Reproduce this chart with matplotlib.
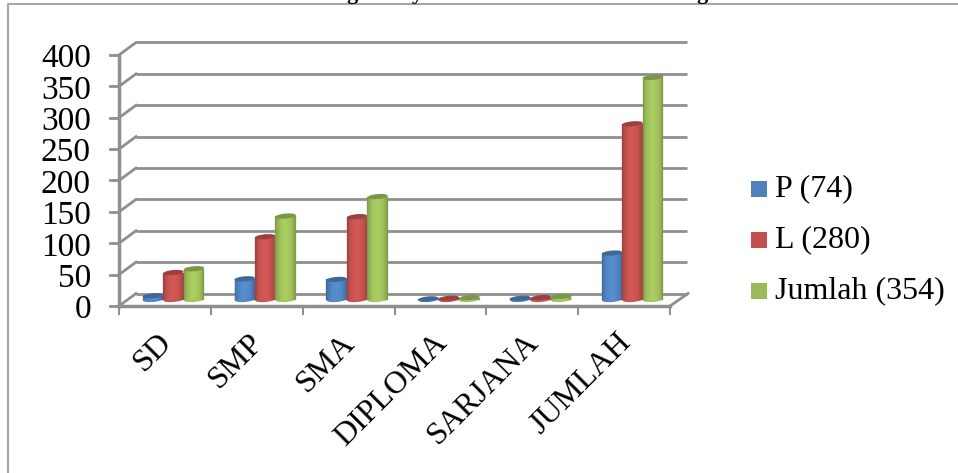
import numpy as np
import matplotlib
matplotlib.use('Agg')
import matplotlib.pyplot as plt
from matplotlib.colors import to_rgb
from matplotlib.patches import Ellipse, Rectangle
from matplotlib.transforms import Affine2D

categories = ['SD', 'SMP', 'SMA', 'DIPLOMA', 'SARJANA', 'JUMLAH']
p_values = [6, 33, 32, 1, 2, 74]
l_values = [43, 100, 132, 2, 3, 280]
jumlah_values = [49, 133, 164, 3, 5, 354]
series_names = ['P (74)', 'L (280)', 'Jumlah (354)']
y_ticks = [0, 50, 100, 150, 200, 250, 300, 350, 400]

W, H = 958, 473
plt.rcParams['font.family'] = ['Liberation Serif', 'DejaVu Serif']
fig = plt.figure(figsize=(W / 100, H / 100), dpi=100)

# axes is the front plane of the box, everything else is offset from it in pixels
left, right, top, bottom = 119, 670, 55, 306
ax = fig.add_axes([left / W, 1 - bottom / H, (right - left) / W, (bottom - top) / H])
ax.set_xlim(0, 6)
ax.set_ylim(0, 400)
ax.axis('off')

grey = '#8f8f8f'
back = ax.transData + Affine2D().translate(17, 12.5)
mid_dx, mid_dy = 8.5, 6.5
mid = ax.transData + Affine2D().translate(mid_dx, mid_dy)

# walls and floor
for v in y_ticks:
    ax.plot([0, 6], [v, v], color=grey, lw=2, transform=back, solid_capstyle='butt', clip_on=False)
    x0, y0 = ax.transData.transform((0, v))
    ax.plot([x0, x0 + 17], [y0, y0 + 12.5], color=grey, lw=2, transform=None, clip_on=False)
    ax.plot([x0 - 9, x0], [y0, y0], color=grey, lw=2, transform=None, clip_on=False)
    ax.text(x0 - 28, y0 - 4, str(v), ha='right', va='center', fontsize=24, transform=None)
ax.plot([0, 0], [0, 400], color=grey, lw=2.5, clip_on=False)
ax.plot([0, 6], [0, 0], color=grey, lw=2.5, clip_on=False)
x1, y1 = ax.transData.transform((6, 0))
ax.plot([x1, x1 + 18], [y1, y1 + 12.5], color=grey, lw=2, transform=None, clip_on=False)
for i in range(7):
    xt, yt = ax.transData.transform((i, 0))
    ax.plot([xt, xt], [yt, yt - 8], color=grey, lw=1.5, transform=None, clip_on=False)

for i, name in enumerate(categories):
    xt, yt = ax.transData.transform((i + 0.5, 0))
    ax.text(xt - 8, yt - 22, name, rotation=45, ha='right', va='top', rotation_mode='anchor',
            fontsize=23, transform=None)

# cylinders: narrow shaded strips for the body, tilted ellipses for the ends
colors = ['#4f81bd', '#c0504d', '#9bbb59']
bar_w = 0.223
bar_px = bar_w * (right - left) / 6
strips = 24
ell_h = 5


def shade(col, t):
    # t runs 0..1 over the width, light in the middle, dark at the edges
    c = np.array(to_rgb(col))
    k = 0.76 + 0.34 * np.sin(np.pi * t) ** 0.6
    return tuple(np.clip(c * k, 0, 1))


def end_cap(cx, v, color, zorder):
    px, py = ax.transData.transform((cx, v))
    place = Affine2D().translate(px + mid_dx, py + mid_dy)
    ax.add_patch(Ellipse((0, 0), bar_px, ell_h, angle=5, transform=place, facecolor=color,
                         lw=0, clip_on=False, zorder=zorder))


for s, vals in enumerate([p_values, l_values, jumlah_values]):
    for i, v in enumerate(vals):
        cx = i + 0.5 + (s - 1) * bar_w
        end_cap(cx, 0, shade(colors[s], 0.3), 3 + s)
        edges = np.linspace(cx - bar_w / 2, cx + bar_w / 2, strips + 1)
        for k in range(strips):
            ax.add_patch(Rectangle((edges[k], 0), edges[k + 1] - edges[k], v, transform=mid,
                                   color=shade(colors[s], (k + 0.5) / strips), lw=0.2,
                                   clip_on=False, zorder=3 + s))
        end_cap(cx, v, tuple(np.array(to_rgb(colors[s])) * 0.8), 3 + s)

# legend
for y, col, name in zip([189, 240, 291], colors, series_names):
    fig.patches.append(Rectangle((751 / W, 1 - (y + 8) / H), 16 / W, 16 / H, transform=fig.transFigure,
                                 color=col, lw=0))
    fig.text(775 / W, 1 - y / H, name, ha='left', va='center', fontsize=23)

# heading sits mostly above the top edge, only the descenders stay in view
for x, letter in zip([352, 417, 702], ['g', 'y', 'g']):
    fig.text(x / W, 1 + 1.5 / H, letter, ha='center', va='baseline', fontsize=16, fontweight='bold')

# outer frame
fig.add_artist(plt.Line2D([8 / W, 8 / W, 1], [0, 1 - 4 / H, 1 - 4 / H], color='#a6a6a6', lw=1.5))

fig.savefig('out.png', dpi=100)
